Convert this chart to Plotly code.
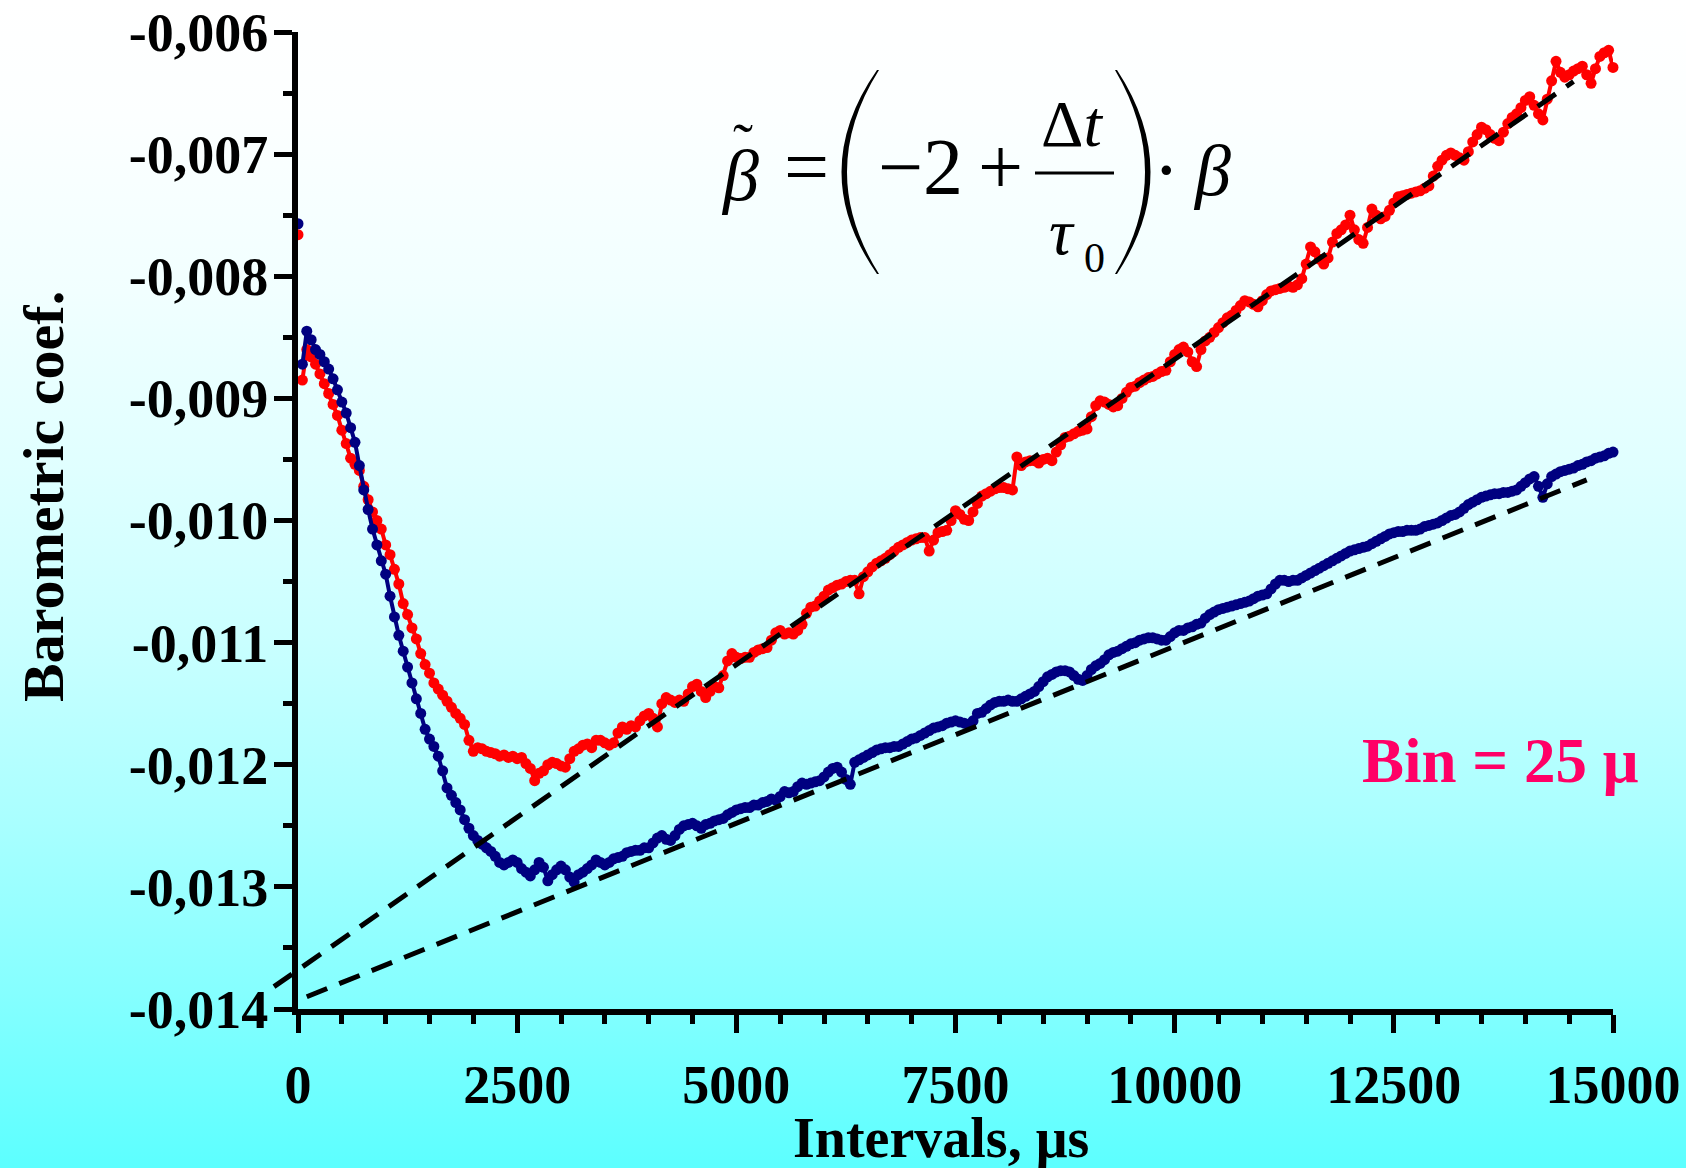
import base64
import plotly.graph_objects as go

# ---------------- data (in units of 1e-3) ----------------
x_step = 50  # bin grid of the plotted points, microseconds

red_milli = [
    -7.66, -8.85, -8.60, -8.66, -8.72, -8.80, -8.88, -8.96, -9.05, -9.14,
    -9.26, -9.37, -9.49, -9.54, -9.59, -9.72, -9.83, -9.93, -10.00, -10.07,
    -10.20, -10.28, -10.40, -10.52, -10.68, -10.77, -10.88, -10.97, -11.09, -11.18,
    -11.25, -11.33, -11.38, -11.43, -11.48, -11.53, -11.58, -11.62, -11.67, -11.80,
    -11.89, -11.86, -11.87, -11.89, -11.90, -11.91, -11.93, -11.92, -11.94, -11.93,
    -11.95, -11.94, -11.99, -12.03, -12.13, -12.07, -12.05, -12.00, -11.98, -11.99,
    -12.01, -12.02, -11.95, -11.89, -11.87, -11.84, -11.83, -11.86, -11.80, -11.80,
    -11.82, -11.84, -11.82, -11.74, -11.69, -11.71, -11.68, -11.69, -11.64, -11.60,
    -11.58, -11.62, -11.69, -11.50, -11.45, -11.47, -11.49, -11.47, -11.48, -11.42,
    -11.36, -11.34, -11.40, -11.45, -11.40, -11.36, -11.37, -11.27, -11.15, -11.09,
    -11.12, -11.13, -11.12, -11.12, -11.08, -11.06, -11.05, -11.04, -10.98, -10.92,
    -10.90, -10.93, -10.92, -10.93, -10.90, -10.85, -10.76, -10.71, -10.70, -10.66,
    -10.62, -10.57, -10.55, -10.53, -10.52, -10.50, -10.49, -10.49, -10.60, -10.46,
    -10.42, -10.38, -10.35, -10.33, -10.31, -10.28, -10.25, -10.22, -10.20, -10.18,
    -10.16, -10.15, -10.14, -10.14, -10.25, -10.16, -10.10, -10.09, -10.08, -10.00,
    -9.92, -9.95, -9.99, -10.00, -9.93, -9.86, -9.80, -9.78, -9.76, -9.74,
    -9.73, -9.73, -9.74, -9.75, -9.48, -9.55, -9.52, -9.51, -9.51, -9.53,
    -9.50, -9.49, -9.51, -9.44, -9.38, -9.32, -9.31, -9.29, -9.27, -9.26,
    -9.25, -9.15, -9.06, -9.02, -9.03, -9.05, -9.07, -9.06, -9.00, -8.95,
    -8.91, -8.90, -8.87, -8.85, -8.83, -8.82, -8.80, -8.78, -8.77, -8.70,
    -8.64, -8.60, -8.58, -8.62, -8.70, -8.74, -8.60, -8.53, -8.50, -8.46,
    -8.42, -8.38, -8.34, -8.32, -8.28, -8.24, -8.20, -8.21, -8.23, -8.25,
    -8.20, -8.15, -8.12, -8.11, -8.10, -8.09, -8.08, -8.09, -8.07, -8.02,
    -7.90, -7.76, -7.80, -7.86, -7.90, -7.85, -7.72, -7.65, -7.62, -7.58,
    -7.50, -7.62, -7.70, -7.73, -7.60, -7.45, -7.50, -7.53, -7.51, -7.46,
    -7.40, -7.35, -7.34, -7.33, -7.32, -7.31, -7.30, -7.28, -7.26, -7.18,
    -7.10, -7.05, -7.01, -6.99, -7.01, -7.03, -7.05, -6.98, -6.90, -6.84,
    -6.78, -6.80, -6.84, -6.87, -6.89, -6.82, -6.75, -6.70, -6.67, -6.62,
    -6.56, -6.53, -6.60, -6.67, -6.72, -6.55, -6.40, -6.24, -6.33, -6.37,
    -6.35, -6.32, -6.30, -6.28, -6.35, -6.42, -6.30, -6.20, -6.17, -6.15,
    -6.29,
]

blue_milli = [
    -7.57, -8.72, -8.45, -8.52, -8.60, -8.64, -8.70, -8.76, -8.84, -8.93,
    -9.03, -9.12, -9.24, -9.36, -9.55, -9.75, -9.91, -10.07, -10.20, -10.33,
    -10.44, -10.62, -10.79, -10.94, -11.07, -11.20, -11.33, -11.46, -11.58, -11.71,
    -11.79, -11.85, -11.93, -12.05, -12.19, -12.25, -12.31, -12.37, -12.45, -12.52,
    -12.58, -12.62, -12.65, -12.68, -12.71, -12.75, -12.80, -12.82, -12.80, -12.78,
    -12.80, -12.85, -12.88, -12.91, -12.86, -12.80, -12.84, -12.95, -12.90, -12.86,
    -12.83, -12.86, -12.92, -12.96, -12.90, -12.88, -12.85, -12.82, -12.78, -12.80,
    -12.82, -12.80, -12.77, -12.76, -12.75, -12.72, -12.71, -12.70, -12.70, -12.68,
    -12.68, -12.64, -12.60, -12.58, -12.61, -12.62, -12.58, -12.53, -12.50, -12.49,
    -12.48, -12.50, -12.52, -12.49, -12.48, -12.46, -12.45, -12.44, -12.41, -12.39,
    -12.37, -12.36, -12.35, -12.35, -12.33, -12.33, -12.31, -12.30, -12.28, -12.29,
    -12.26, -12.22, -12.23, -12.22, -12.18, -12.15, -12.16, -12.15, -12.14, -12.13,
    -12.10, -12.06, -12.03, -12.02, -12.06, -12.12, -12.16, -11.98, -11.96, -11.94,
    -11.92, -11.90, -11.88, -11.87, -11.86, -11.86, -11.85, -11.85, -11.83, -11.81,
    -11.79, -11.78, -11.76, -11.74, -11.72, -11.70, -11.69, -11.68, -11.66, -11.65,
    -11.64, -11.65, -11.66, -11.67, -11.64, -11.58, -11.57, -11.54, -11.51, -11.49,
    -11.48, -11.48, -11.47, -11.48, -11.48, -11.46, -11.44, -11.42, -11.40, -11.36,
    -11.32, -11.28, -11.26, -11.24, -11.23, -11.23, -11.24, -11.27, -11.30, -11.31,
    -11.27, -11.22, -11.19, -11.17, -11.14, -11.10, -11.08, -11.07, -11.05, -11.03,
    -11.01, -11.00, -10.98, -10.97, -10.96, -10.96, -10.97, -10.98, -10.98, -10.95,
    -10.92, -10.90, -10.90, -10.88, -10.87, -10.85, -10.84, -10.80, -10.77, -10.75,
    -10.73, -10.72, -10.71, -10.70, -10.69, -10.68, -10.67, -10.66, -10.64, -10.62,
    -10.61, -10.60, -10.56, -10.52, -10.49, -10.49, -10.50, -10.49, -10.49, -10.47,
    -10.45, -10.43, -10.41, -10.39, -10.37, -10.35, -10.33, -10.31, -10.29, -10.27,
    -10.25, -10.24, -10.23, -10.22, -10.21, -10.19, -10.17, -10.15, -10.13, -10.11,
    -10.10, -10.09, -10.09, -10.08, -10.08, -10.08, -10.07, -10.05, -10.04, -10.03,
    -10.02, -10.00, -9.98, -9.96, -9.95, -9.93, -9.90, -9.87, -9.85, -9.83,
    -9.81, -9.80, -9.79, -9.78, -9.78, -9.77, -9.77, -9.76, -9.75, -9.72,
    -9.69, -9.66, -9.64, -9.72, -9.81, -9.70, -9.64, -9.62, -9.60, -9.59,
    -9.58, -9.57, -9.55, -9.54, -9.52, -9.51, -9.49, -9.48, -9.47, -9.45,
    -9.44,
]

# dashed linear fits (end points)
fit_red_x = [-274, 14550]
fit_red_milli = [-13.817, -6.405]
fit_blue_x = [100, 14700]
fit_blue_milli = [-13.90, -9.667]

x_tick_vals = [0, 2500, 5000, 7500, 10000, 12500, 15000]
x_tick_text = ["0", "2500", "5000", "7500", "10000", "12500", "15000"]
y_tick_vals = [-0.014, -0.013, -0.012, -0.011, -0.010, -0.009, -0.008, -0.007, -0.006]
y_tick_text = ["-0,014", "-0,013", "-0,012", "-0,011", "-0,010", "-0,009", "-0,008", "-0,007", "-0,006"]

x_title = "Intervals, μs"
y_title = "Barometric coef."
bin_label = "Bin = 25 μ"

# ---------------- derived ----------------
red_x = [i * x_step for i in range(len(red_milli))]
blue_x = [i * x_step for i in range(len(blue_milli))]
red_y = [v * 1e-3 for v in red_milli]
blue_y = [v * 1e-3 for v in blue_milli]
fit_red_y = [v * 1e-3 for v in fit_red_milli]
fit_blue_y = [v * 1e-3 for v in fit_blue_milli]

# ---------------- geometry ----------------
W, H = 1686, 1168
ML, MR, MT, MB = 262, 73, 32, 159
PW = W - ML - MR
PH = H - MT - MB
AX0 = 298  # pixel of x = 0 (main y axis)
a = (AX0 - ML) / PW


def X(px):
    return (px - ML) / PW


def Y(py):
    return (H - MB - py) / PH


SERIF = "Liberation Serif"

fig = go.Figure()
for sx, sy, col in ((red_x, red_y, "#ff0000"), (blue_x, blue_y, "#000080")):
    # thin connecting line (first, isolated point at x = 0 left unconnected)
    fig.add_trace(go.Scatter(
        x=sx[1:], y=sy[1:], mode="lines", line=dict(color=col, width=4),
        xaxis="x", yaxis="y", showlegend=False, hoverinfo="skip"))
    fig.add_trace(go.Scatter(
        x=sx, y=sy, mode="markers", cliponaxis=False,
        marker=dict(color=col, size=11, line=dict(width=0)),
        xaxis="x", yaxis="y", showlegend=False, hoverinfo="skip"))
for fx, fy in ((fit_red_x, fit_red_y), (fit_blue_x, fit_blue_y)):
    fig.add_trace(go.Scatter(
        x=fx, y=fy, mode="lines",
        line=dict(color="black", width=5, dash="22px,13px"),
        xaxis="x2", yaxis="y2", showlegend=False, hoverinfo="skip"))

tickfont = dict(family=SERIF, size=54, color="black", weight="bold")
x_minor = [v for v in range(500, 15000, 500) if v % 2500]
y_minor = [-0.0135 + 0.001 * k for k in range(8)]

fig.update_layout(
    width=W, height=H,
    margin=dict(l=ML, r=MR, t=MT, b=MB, pad=0, autoexpand=False),
    paper_bgcolor="white",
    plot_bgcolor="rgba(0,0,0,0)",
    showlegend=False,
    xaxis=dict(
        domain=[a, 1], range=[0, 15000], anchor="y", automargin=False,
        showline=True, linewidth=6, linecolor="black",
        ticks="outside", ticklen=18, tickwidth=5, tickcolor="black",
        tickmode="array", tickvals=x_tick_vals, ticktext=x_tick_text,
        tickfont=tickfont, ticklabelstandoff=5,
        minor=dict(tickmode="array", tickvals=x_minor, ticks="outside",
                   ticklen=9, tickwidth=5, tickcolor="black", showgrid=False),
        showgrid=False, zeroline=False,
    ),
    yaxis=dict(
        domain=[0, 1], range=[-0.014, -0.006], anchor="x", automargin=False,
        showline=True, linewidth=6, linecolor="black",
        ticks="outside", ticklen=18, tickwidth=5, tickcolor="black",
        tickmode="array", tickvals=y_tick_vals, ticktext=y_tick_text,
        tickfont=tickfont, ticklabelstandoff=-5,
        minor=dict(tickmode="array", tickvals=y_minor, ticks="outside",
                   ticklen=9, tickwidth=5, tickcolor="black", showgrid=False),
        showgrid=False, zeroline=False,
    ),
    xaxis2=dict(domain=[0, 1], range=[-15000 * a / (1 - a), 15000],
                anchor="y2", visible=False, showgrid=False, zeroline=False,
                automargin=False),
    yaxis2=dict(domain=[0, 1], range=[-0.014, -0.006], anchor="x2",
                visible=False, showgrid=False, zeroline=False,
                automargin=False),
)

# ---------------- background gradient (white -> cyan) ----------------
stops = [(0.0, 255), (0.1, 252), (0.25, 241), (0.4, 224), (0.55, 201),
         (0.7, 170), (0.85, 133), (1.0, 92)]
stop_svg = "".join(
    f"<stop offset='{o}' stop-color='rgb({r},255,255)'/>" for o, r in stops)
svg = (f"<svg xmlns='http://www.w3.org/2000/svg' width='{W}' height='{H}' "
       f"viewBox='0 0 {W} {H}' preserveAspectRatio='none'><defs>"
       f"<linearGradient id='g' x1='0' y1='0' x2='0' y2='1'>{stop_svg}"
       f"</linearGradient></defs><rect x='0' y='0' width='{W}' height='{H}' "
       f"fill='url(#g)'/></svg>")
src = "data:image/svg+xml;base64," + base64.b64encode(svg.encode()).decode()
fig.add_layout_image(dict(source=src, xref="paper", yref="paper",
                          x=X(0), y=Y(0), sizex=W / PW, sizey=H / PH,
                          xanchor="left", yanchor="top", sizing="stretch",
                          layer="below"))

# ---------------- texts ----------------
def ann(text, px, py, size, color="black", bold=False, angle=0, xanchor="center"):
    fig.add_annotation(
        text=text, xref="paper", yref="paper", x=X(px), y=Y(py),
        xanchor=xanchor, yanchor="middle", showarrow=False, textangle=angle,
        font=dict(family=SERIF, size=size, color=color,
                  weight="bold" if bold else "normal"))


ann(y_title, 43, 496, 58, bold=True, angle=-90)
ann(x_title, 941, 1138, 56, bold=True)
ann(bin_label, 1500, 761, 63, color="#ff0066", bold=True)

# formula  beta~ = ( -2 + dt/tau0 ) . beta
ann("<i>β</i>", 740, 176, 72)
ann("˜", 743, 144, 60)
ann("=", 806, 167, 80)
ann("−2", 920, 167, 80)
ann("+", 1000, 167, 80)
ann("Δ<i>t</i>", 1072, 123, 66)
ann("<i>τ</i>", 1062, 231, 66)
ann("0", 1094, 258, 42)
ann("·", 1166, 170, 80)
ann("<i>β</i>", 1212, 171, 72)

fig.add_shape(type="line", xref="paper", yref="paper",
              x0=X(1035), y0=Y(173), x1=X(1114), y1=Y(173),
              line=dict(color="black", width=3))
lp = (f"M {X(877)},{Y(70)} Q {X(806)},{Y(172)} {X(877)},{Y(274)} "
      f"L {X(879)},{Y(274)} Q {X(815)},{Y(172)} {X(879)},{Y(70)} Z")
rp = (f"M {X(1117)},{Y(70)} Q {X(1184)},{Y(172)} {X(1117)},{Y(274)} "
      f"L {X(1115)},{Y(274)} Q {X(1175)},{Y(172)} {X(1115)},{Y(70)} Z")
for p in (lp, rp):
    fig.add_shape(type="path", xref="paper", yref="paper", path=p,
                  fillcolor="black", line=dict(width=0))

fig.write_html("out.html",
               config={"displayModeBar": False},
               post_script="document.body.style.margin='0';"
                           "document.body.style.overflow='hidden';")
